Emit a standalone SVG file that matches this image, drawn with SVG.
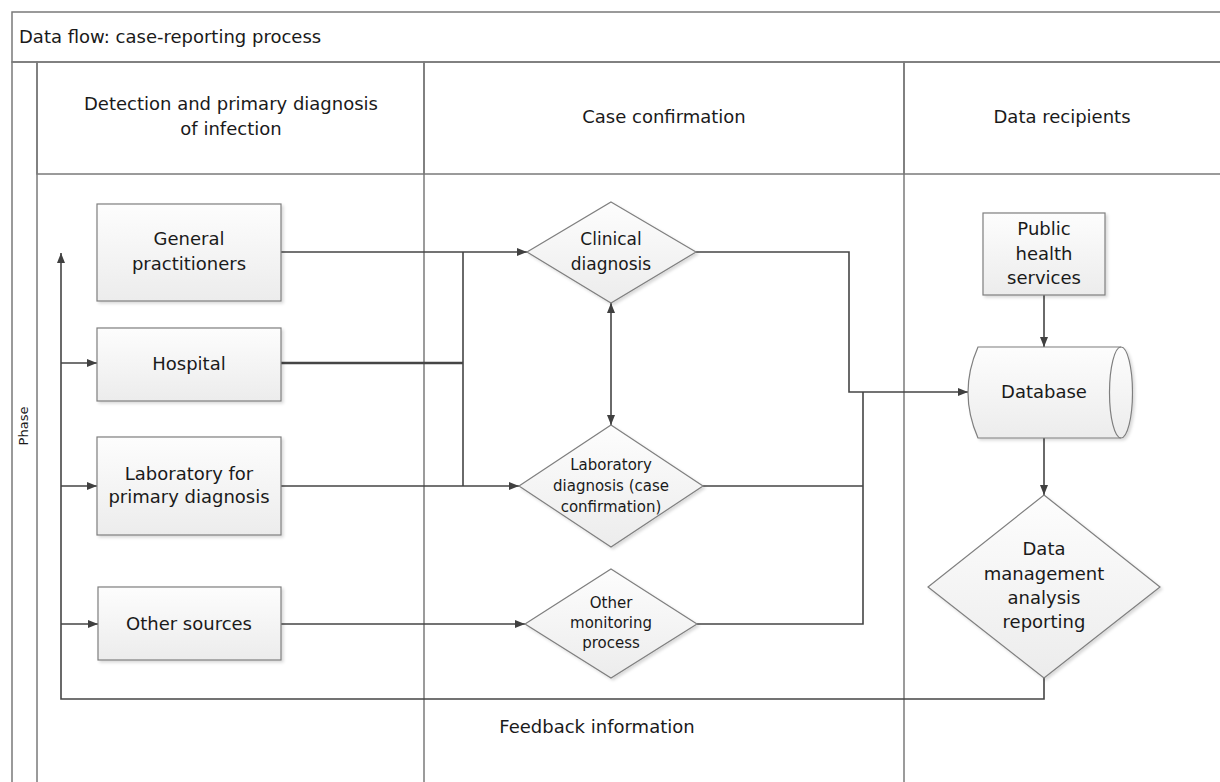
<svg xmlns="http://www.w3.org/2000/svg" width="1220" height="782" viewBox="0 0 1220 782">
  <defs>
    <linearGradient id="gShape" x1="0" y1="0" x2="0" y2="1">
      <stop offset="0" stop-color="#fdfdfd"/>
      <stop offset="1" stop-color="#ececec"/>
    </linearGradient>
    <linearGradient id="gHead" x1="0" y1="0" x2="0" y2="1">
      <stop offset="0" stop-color="#ffffff"/>
      <stop offset="1" stop-color="#eeeeee"/>
    </linearGradient>
    <linearGradient id="gPhase" x1="0" y1="0" x2="1" y2="0">
      <stop offset="0" stop-color="#eeeeee"/>
      <stop offset="1" stop-color="#fcfcfc"/>
    </linearGradient>
    <filter id="shadow" x="-10%" y="-10%" width="130%" height="130%">
      <feDropShadow dx="2" dy="2" stdDeviation="1.5" flood-color="#000" flood-opacity="0.15"/>
    </filter>
    <marker id="arrow" viewBox="0 0 10 10" refX="10" refY="5" markerWidth="10" markerHeight="10" markerUnits="userSpaceOnUse" orient="auto-start-reverse">
      <path d="M0,1 L10,5 L0,9 Z" fill="#404040"/>
    </marker>
    <style>
      text { font-family: "DejaVu Sans", Verdana, sans-serif; fill: #1a1a1a; }
      .t18 { font-size: 18px; }
      .t17 { font-size: 17px; }
      .t15 { font-size: 15px; }
      .mid { text-anchor: middle; }
      .frame { fill: none; stroke: #7a7a7a; stroke-width: 1.5; }
      .shape { fill: url(#gShape); stroke: #7f7f7f; stroke-width: 1.2; filter: url(#shadow); }
      .conn { fill: none; stroke: #454545; stroke-width: 1.6; }
    </style>
  </defs>

  <rect x="0" y="0" width="1220" height="782" fill="#ffffff"/>

  <!-- swimlane frame -->
  <g id="frame">
    <rect x="12" y="12" width="1220" height="50" fill="url(#gHead)" class="frame"/>
    <rect x="12" y="62" width="25" height="730" fill="url(#gPhase)" class="frame"/>
    <rect x="37" y="62" width="387" height="112" fill="url(#gHead)" class="frame"/>
    <rect x="424" y="62" width="480" height="112" fill="url(#gHead)" class="frame"/>
    <rect x="904" y="62" width="330" height="112" fill="url(#gHead)" class="frame"/>
    <line x1="424" y1="174" x2="424" y2="782" class="frame"/>
    <line x1="904" y1="174" x2="904" y2="782" class="frame"/>
    <text x="19" y="43" class="t18">Data flow: case-reporting process</text>
    <text x="231" y="110" class="t18 mid">Detection and primary diagnosis</text>
    <text x="231" y="135" class="t18 mid">of infection</text>
    <text x="664" y="123" class="t18 mid">Case confirmation</text>
    <text x="1062" y="123" class="t18 mid">Data recipients</text>
    <text x="0" y="0" transform="translate(28,426) rotate(-90)" style="font-size:13px" class="mid">Phase</text>
  </g>

  <!-- connectors -->
  <g id="connectors">
    <path d="M281,252 H527" class="conn" marker-end="url(#arrow)"/>
    <path d="M281,363 H463" class="conn" style="stroke-width:2.4"/>
    <path d="M463,252 V486" class="conn"/>
    <path d="M281,486 H519" class="conn" marker-end="url(#arrow)"/>
    <path d="M281,624 H525" class="conn" marker-end="url(#arrow)"/>
    <path d="M611,303 V425" class="conn" marker-start="url(#arrow)" marker-end="url(#arrow)"/>
    <path d="M696,252 H849 V392 H968" class="conn" marker-end="url(#arrow)"/>
    <path d="M703,486 H863" class="conn"/>
    <path d="M697,624 H863 V392" class="conn"/>
    <path d="M1044,295 V347" class="conn" marker-end="url(#arrow)"/>
    <path d="M1044,438 V495" class="conn" marker-end="url(#arrow)"/>
    <path d="M1044,678 V699 H61 V253" class="conn" marker-end="url(#arrow)"/>
    <path d="M61,363 H97" class="conn" marker-end="url(#arrow)"/>
    <path d="M61,486 H97" class="conn" marker-end="url(#arrow)"/>
    <path d="M61,624 H98" class="conn" marker-end="url(#arrow)"/>
    <text x="597" y="733" class="t18 mid">Feedback information</text>
  </g>

  <!-- source nodes -->
  <g id="general-practitioners">
    <rect x="97" y="204" width="184" height="97" class="shape"/>
    <text x="189" y="245" class="t18 mid">General</text>
    <text x="189" y="270" class="t18 mid">practitioners</text>
  </g>
  <g id="hospital">
    <rect x="97" y="328" width="184" height="73" class="shape"/>
    <text x="189" y="370" class="t18 mid">Hospital</text>
  </g>
  <g id="laboratory-primary">
    <rect x="97" y="437" width="184" height="98" class="shape"/>
    <text x="189" y="480" class="t18 mid">Laboratory for</text>
    <text x="189" y="503" class="t18 mid">primary diagnosis</text>
  </g>
  <g id="other-sources">
    <rect x="98" y="587" width="183" height="73" class="shape"/>
    <text x="189" y="630" class="t18 mid">Other sources</text>
  </g>

  <!-- confirmation decisions -->
  <g id="clinical-diagnosis">
    <path d="M611,202 L696,252 L611,303 L527,252 Z" class="shape"/>
    <text x="611" y="245" class="t17 mid">Clinical</text>
    <text x="611" y="270" class="t17 mid">diagnosis</text>
  </g>
  <g id="laboratory-diagnosis">
    <path d="M611,425 L703,486 L611,547 L519,486 Z" class="shape"/>
    <text x="611" y="470" class="t15 mid">Laboratory</text>
    <text x="611" y="491" class="t15 mid">diagnosis (case</text>
    <text x="611" y="512" class="t15 mid">confirmation)</text>
  </g>
  <g id="other-monitoring">
    <path d="M611,569 L697,624 L611,678 L525,624 Z" class="shape"/>
    <text x="611" y="608" class="t15 mid">Other</text>
    <text x="611" y="628" class="t15 mid">monitoring</text>
    <text x="611" y="648" class="t15 mid">process</text>
  </g>

  <!-- data recipients -->
  <g id="public-health-services">
    <rect x="983" y="213" width="122" height="82" class="shape"/>
    <text x="1044" y="235" class="t18 mid">Public</text>
    <text x="1044" y="260" class="t18 mid">health</text>
    <text x="1044" y="284" class="t18 mid">services</text>
  </g>
  <g id="database">
    <path d="M978,347 L1121,347 A11.5,45.5 0 0 1 1121,438 L978,438 Q958,392.5 978,347 Z" class="shape"/>
    <path d="M1121,347 A11.5,45.5 0 0 0 1121,438" fill="none" stroke="#7f7f7f" stroke-width="1.2"/>
    <text x="1044" y="398" class="t18 mid">Database</text>
  </g>
  <g id="data-management">
    <path d="M1044,495 L1160,587 L1044,678 L928,587 Z" class="shape"/>
    <text x="1044" y="555" class="t18 mid">Data</text>
    <text x="1044" y="580" class="t18 mid">management</text>
    <text x="1044" y="604" class="t18 mid">analysis</text>
    <text x="1044" y="628" class="t18 mid">reporting</text>
  </g>
</svg>
